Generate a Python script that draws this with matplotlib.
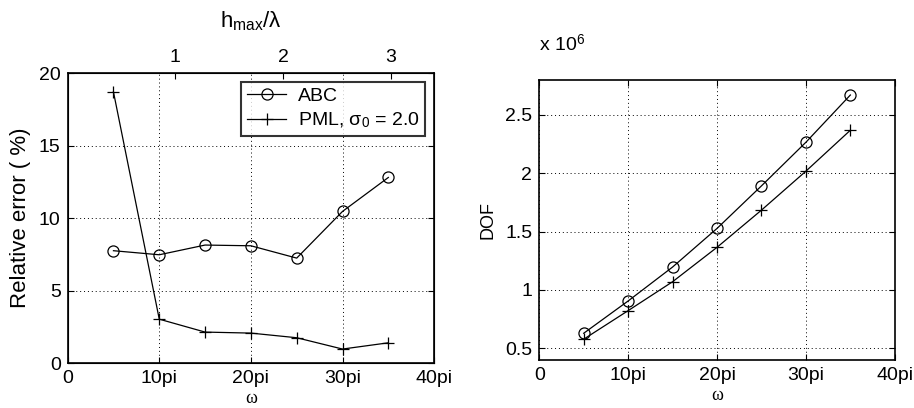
import matplotlib
matplotlib.use("Agg")
import matplotlib.pyplot as plt
import numpy as np

plt.rcParams['font.family'] = ['Liberation Sans', 'DejaVu Sans']
plt.rcParams['mathtext.fontset'] = 'custom'
plt.rcParams['mathtext.rm'] = 'Liberation Sans'
plt.rcParams['mathtext.it'] = 'Liberation Serif:italic'

omega = [5, 10, 15, 20, 25, 30, 35]
xticks = [0, 10, 20, 30, 40]
xticklabels = ['0', '10pi', '20pi', '30pi', '40pi']

err_abc = [7.75, 7.47, 8.14, 8.09, 7.24, 10.46, 12.8]
err_pml = [18.7, 3.03, 2.14, 2.07, 1.75, 0.97, 1.40]

dof_abc = [0.628, 0.905, 1.196, 1.527, 1.892, 2.266, 2.671]
dof_pml = [0.577, 0.822, 1.070, 1.365, 1.684, 2.018, 2.369]

h_ticks = [1, 2, 3]
h_scale = 11.75  # omega units per h_max/lambda

TICK_FS = 14

fig = plt.figure(figsize=(9.14, 4.08), dpi=100)

def style(ax):
    ax.tick_params(direction='in', top=True, right=True, labelsize=TICK_FS,
                   length=4, width=0.8, pad=5)
    for s in ax.spines.values():
        s.set_linewidth(1.2)
    ax.grid(True, linestyle=(0, (1, 3)), color='black', linewidth=0.7)

# Left
ax1 = fig.add_axes([0.074, 0.110, 0.401, 0.711])
ax1.plot(omega, err_abc, '-', color='black', lw=0.9, marker='o', ms=8,
         mfc='none', mec='black', mew=0.9, label='ABC')
ax1.plot(omega, err_pml, '-', color='black', lw=0.9, marker='+', ms=9,
         mew=0.9, label=r'PML, σ$_{\mathregular{0}}$ = 2.0')
ax1.set_xlim(0, 40)
ax1.set_ylim(0, 20)
ax1.set_xticks(xticks)
ax1.set_xticklabels(xticklabels)
ax1.set_yticks([0, 5, 10, 15, 20])
style(ax1)
ax1.set_ylabel('Relative error ( %)', fontsize=16, labelpad=6)
ax1.set_xlabel('ω', fontsize=13, family='Liberation Serif', labelpad=2)
leg = ax1.legend(loc='upper right', fontsize=14, frameon=True, fancybox=False,
                 edgecolor='black', borderaxespad=0.45, handlelength=2.0,
                 borderpad=0.3, labelspacing=0.3, handletextpad=0.6)
leg.get_frame().set_linewidth(1.5)

ax1t = ax1.twiny()
ax1t.set_xlim(0, 40 / h_scale)
ax1t.set_xticks(h_ticks)
ax1t.tick_params(direction='in', labelsize=TICK_FS, length=4, width=0.8, pad=5)
ax1t.set_xlabel(r'h$_{\mathregular{max}}$/λ', fontsize=16, labelpad=16)

# Right
ax2 = fig.add_axes([0.590, 0.118, 0.389, 0.686])
ax2.plot(omega, dof_abc, '-', color='black', lw=0.9, marker='o', ms=8,
         mfc='none', mec='black', mew=0.9)
ax2.plot(omega, dof_pml, '-', color='black', lw=0.9, marker='+', ms=9, mew=0.9)
ax2.set_xlim(0, 40)
ax2.set_ylim(0.4, 2.8)
ax2.set_xticks(xticks)
ax2.set_xticklabels(xticklabels)
ax2.set_yticks([0.5, 1, 1.5, 2, 2.5])
ax2.set_yticklabels(['0.5', '1', '1.5', '2', '2.5'])
style(ax2)
ax2.set_ylabel('DOF', fontsize=13, labelpad=6)
ax2.set_xlabel('ω', fontsize=13, family='Liberation Serif', labelpad=2)
ax2.text(0.0, 1.09, r'x 10$^{\mathregular{6}}$', transform=ax2.transAxes,
         fontsize=14, ha='left', va='bottom')

fig.savefig('out.png', dpi=100)
